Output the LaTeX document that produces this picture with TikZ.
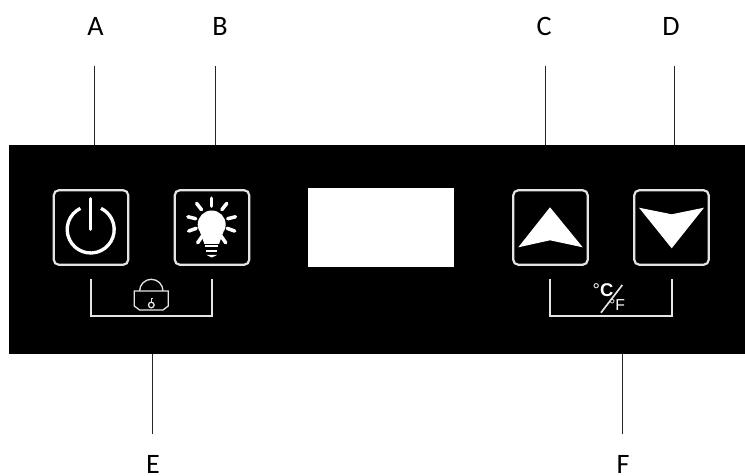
\documentclass[tikz,border=0pt]{standalone}
\usepackage{fontspec}
\setmainfont{Carlito}
\newfontfamily\unitfont{Liberation Sans}
\tikzset{
  panelbox/.style = {fill = black, draw = none, inner sep = 0, minimum width = 14.72cm, minimum height = 4.18cm},
  screenbox/.style = {fill = white, draw = none, inner sep = 0, minimum width = 2.92cm, minimum height = 1.58cm},
  btnbox/.style = {draw = btngray, line width = 1.25pt, rounded corners = 0.1cm, inner sep = 0, minimum size = 1.49cm},
  callout/.style = {black, font = \fontsize{16}{19}\selectfont, inner sep = 0},
  leader/.style = {black!85, line width = 0.55pt},
  thinline/.style = {btngray, line width = 0.95pt},
  iconline/.style = {white, line width = 2pt, line cap = round},
}
\definecolor{btngray}{HTML}{E4E4E4}
\begin{document}
\begin{tikzpicture} [x = 0.02cm, y = -0.02cm]
\useasboundingbox (0, 0) rectangle (745, 476);
\node[panelbox] (panel) at (377, 249.5){};
\node[screenbox] (screen) at (381, 227.5){};
\node[btnbox] (power) at (91, 227.5){};
\node[btnbox] (light) at (212, 227.5){};
\node[btnbox] (up) at (550.5, 227.5){};
\node[btnbox] (down) at (671.5, 227.5){};
\node[callout] (labelA) at (95.5, 26){A};
\node[callout] (labelB) at (220, 26){B};
\node[callout] (labelC) at (544, 26){C};
\node[callout] (labelD) at (671, 26){D};
\node[callout] (labelE) at (153, 464.5){E};
\node[callout] (labelF) at (623, 464.5){F};
\coordinate (endA) at (94, 66);
\coordinate (endB) at (215, 66);
\coordinate (endC) at (545, 66);
\coordinate (endD) at (674, 66);
\coordinate (endE) at (152, 434);
\coordinate (endF) at (622, 434);
\draw[leader] (endA) -- (endA |- panel.north);
\draw[leader] (endB) -- (endB |- panel.north);
\draw[leader] (endC) -- (endC |- panel.north);
\draw[leader] (endD) -- (endD |- panel.north);
\draw[leader] (endE) -- (endE |- panel.south);
\draw[leader] (endF) -- (endF |- panel.south);
\coordinate (lockL) at (90.7, 278.7);
\coordinate (lockR) at (211.7, 278.7);
\coordinate (unitL) at (550, 278.7);
\coordinate (unitR) at (671.7, 278.7);
\draw[thinline] (lockL) -- ++(0, 37) -| (lockR);
\draw[thinline] (unitL) -- ++(0, 37) -| (unitR);
\draw[white, line width = 1.9pt] (90.7, 229.5) ++(-116:23.5) arc [start angle = -116, end angle = -424, radius = 23.5];
\draw[white, line width = 1.5pt, line cap = round] (90.7, 198.5) -- (90.7, 229.5);
\foreach \ang in {90, 52, 128, 14, 166, -20, 200, -55, 235} {
  \draw[iconline] (211.7, 222.7) ++(-\ang:16.5) -- ++(-\ang:8);
}
\fill[white] (211.7, 224.5) circle [radius = 14];
\fill[white] (200, 232) -- (223.4, 232) -- (219, 244) -- (204.4, 244) -- cycle;
\fill[white] (205, 245.5) -- (218.4, 245.5) -- (218.4, 247.5) -- (205, 247.5) -- cycle;
\fill[white] (206, 250.5) -- (217.4, 250.5) -- (217.4, 252.5) -- (206, 252.5) -- cycle;
\fill[white] (206.5, 255) -- (216.9, 255) -- (211.7, 257.5) -- cycle;
\fill[white] (518.3, 247.3) -- (550, 207.3) -- (582.7, 247.3) -- (550, 240.3) -- cycle;
\fill[white] (639, 207.7) -- (671.7, 214.3) -- (704, 207.7) -- (671.7, 248.3) -- cycle;
\draw[thinline, line width = 0.75pt] (139.6, 291) arc [start angle = 180, end angle = 360, radius = 11.7];
\draw[thinline, line width = 0.75pt] (134.3, 291) -- (168.3, 291) -- (168.3, 306) -- (163, 310) -- (139.6, 310) -- (134.3, 306) -- cycle;
\draw[thinline, line width = 0.75pt] (151.3, 305) circle [radius = 2.8];
\draw[thinline, line width = 0.5pt] (151.3, 302) -- (151.3, 298) -- (153, 298);
\node[white, inner sep = 0, font = \unitfont\fontsize{10.5}{12}\selectfont] (unitC) at (603, 290){°\textbf{C}};
\node[white, inner sep = 0, font = \unitfont\fontsize{9}{10}\selectfont] (unitK) at (617, 305){°F};
\coordinate (slashA) at (601, 312.7);
\coordinate (slashB) at (622.3, 285);
\draw[thinline] (slashA) -- (slashB);
\end{tikzpicture}
\end{document}
